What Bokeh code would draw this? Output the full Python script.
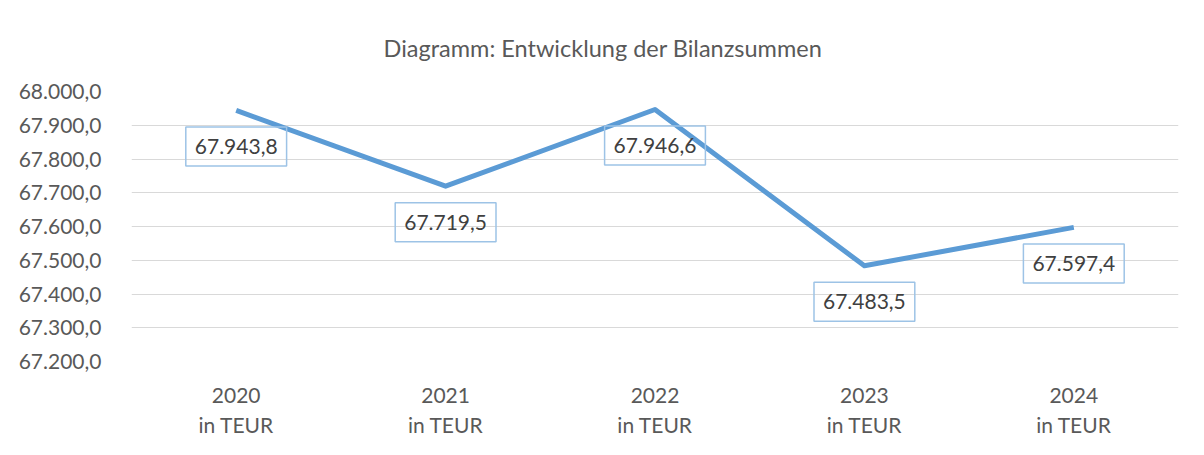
from bokeh.plotting import figure
from bokeh.models import (ColumnDataSource, Label, FixedTicker, Range1d, CategoricalAxis,
                          CustomJSTickFormatter)
from bokeh.embed import file_html
from bokeh.resources import INLINE

years = ["2020", "2021", "2022", "2023", "2024"]
unit_labels = ["in TEUR", "in TEUR", "in TEUR", "in TEUR", "in TEUR"]
values = [67943.8, 67719.5, 67946.6, 67483.5, 67597.4]
value_labels = ["67.943,8", "67.719,5", "67.946,6", "67.483,5", "67.597,4"]
y_ticks = [67200, 67300, 67400, 67500, 67600, 67700, 67800, 67900, 68000]
y_tick_labels = ["67.200,0", "67.300,0", "67.400,0", "67.500,0", "67.600,0",
                 "67.700,0", "67.800,0", "67.900,0", "68.000,0"]
title_text = "Diagramm: Entwicklung der Bilanzsummen"

FONT = "Lato"
FS = "21px"

p = figure(width=1188, height=439, x_range=years, y_range=Range1d(67200, 68000),
           output_backend="svg", toolbar_location=None,
           min_border_left=131, min_border_right=10, min_border_top=91, min_border_bottom=77)

p.title.text = title_text
p.title.align = "left"
p.title.offset = 252
p.title.standoff = 60
p.title.text_font = FONT
p.title.text_font_size = "23.5px"
p.title.text_font_style = "normal"
p.title.text_color = "#595959"

p.outline_line_color = None
p.background_fill_color = "white"
p.border_fill_color = "white"

p.xgrid.grid_line_color = None
p.ygrid.grid_line_color = "#d9d9d9"
p.ygrid.grid_line_width = 1

p.yaxis.ticker = FixedTicker(ticks=y_ticks)
p.yaxis.major_label_overrides = {t: l for t, l in zip(y_ticks, y_tick_labels)}

ax2 = CategoricalAxis(formatter=CustomJSTickFormatter(
    args=dict(factors=years, units=unit_labels),
    code="const i = factors.indexOf(tick); return i >= 0 ? units[i] : '';"))
p.add_layout(ax2, "below")

for ax in (p.below[0], ax2, p.yaxis[0]):
    ax.axis_line_color = None
    ax.major_tick_line_color = None
    ax.minor_tick_line_color = None
    ax.major_label_text_font = FONT
    ax.major_label_text_font_size = FS
    ax.major_label_text_color = "#595959"
p.yaxis.major_label_standoff = 24
p.below[0].major_label_standoff = 20
ax2.major_label_standoff = 0

src = ColumnDataSource(data=dict(x=years, y=values, lab=value_labels))
p.line("x", "y", source=src, line_color="#5B9BD5", line_width=5, line_join="round")

for i, (v, lab) in enumerate(zip(values, value_labels)):
    p.add_layout(Label(x=i + 0.5, y=v, text=lab, y_offset=-36,
                       text_align="center", text_baseline="middle",
                       text_font=FONT, text_font_size=FS, text_color="#404040",
                       border_line_color="#9DC3E6", border_line_width=1.5,
                       background_fill_color=None, padding=(9, 12)))

open("out.html", "w").write(file_html(p, INLINE))
